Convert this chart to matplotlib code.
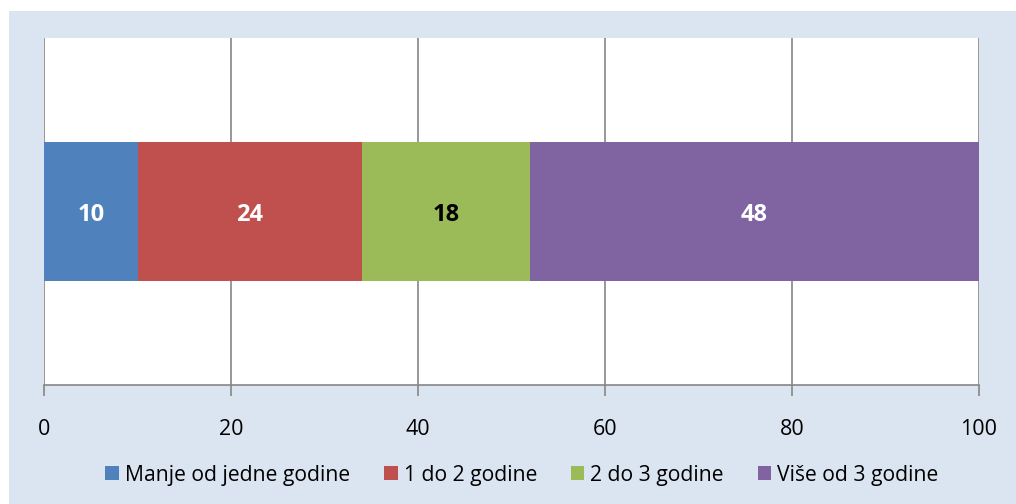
import matplotlib
matplotlib.use("Agg")
import matplotlib.pyplot as plt
from matplotlib.patches import Rectangle, Patch

categories = ["Manje od jedne godine", "1 do 2 godine", "2 do 3 godine", "Više od 3 godine"]
values = [10, 24, 18, 48]
colors = ["#4F81BD", "#C0504D", "#9BBB59", "#8064A2"]
label_colors = ["white", "white", "black", "white"]
xticks = [0, 20, 40, 60, 80, 100]

plt.rcParams['font.family'] = ['Open Sans', 'DejaVu Sans']

W, H = 1016, 504
fig = plt.figure(figsize=(W / 100, H / 100), dpi=100)
fig.patch.set_facecolor("white")
fig.patches.append(Rectangle((9 / W, 0), 1 - 9 / W, (H - 11) / H, transform=fig.transFigure,
                             facecolor="#DBE5F1", edgecolor="none", zorder=-10))

ax = fig.add_axes([44 / W, (H - 385) / H, (979 - 44) / W, (385 - 38) / H])
ax.set_facecolor("white")

left = 0
for cat, v, c, lc in zip(categories, values, colors, label_colors):
    ax.barh(0, v, left=left, height=0.4, color=c, label=cat, zorder=3)
    ax.text(left + v / 2, -0.01, str(v), ha="center", va="center", color=lc,
            fontsize=17, fontweight="bold", zorder=4)
    left += v

ax.set_xlim(0, 100)
ax.set_ylim(-0.5, 0.5)
ax.set_xticks(xticks)
ax.set_xticklabels([str(t) for t in xticks], fontsize=15.5)
ax.set_yticks([])
ax.grid(axis="x", color="#868686", linewidth=1.2, zorder=1)
for s in ["top", "right", "left"]:
    ax.spines[s].set_visible(False)
ax.spines["bottom"].set_color("#868686")
ax.spines["bottom"].set_linewidth(1.2)
ax.tick_params(axis="x", direction="out", length=8, width=1.2, color="#868686", pad=16.5)

handles = [Patch(facecolor=c, edgecolor="none") for c in colors]
fig.legend(handles, categories, loc="center", bbox_to_anchor=(522 / W, (H - 475) / H), ncol=4,
           frameon=False, fontsize=15.2, handlelength=0.65, handleheight=0.65,
           handletextpad=0.28, columnspacing=1.6)

fig.savefig("out.png", dpi=100, facecolor=fig.get_facecolor())
